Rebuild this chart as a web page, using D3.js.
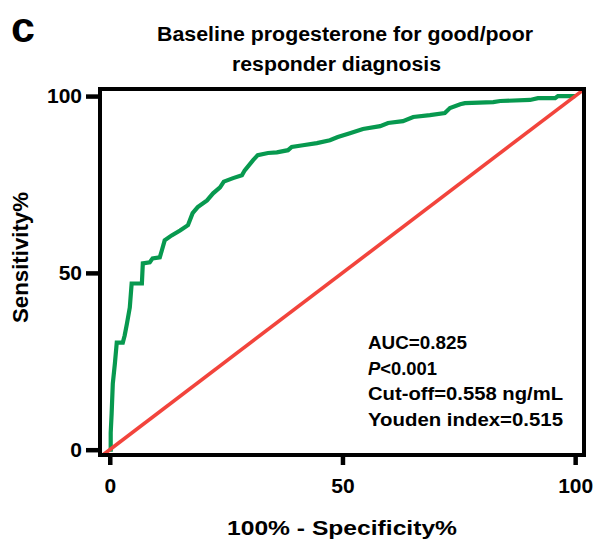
<!DOCTYPE html>
<html>
<head>
<meta charset="utf-8">
<script src="https://cdn.jsdelivr.net/npm/d3@7"></script>
<style>
  html, body { margin: 0; padding: 0; background: #fff; }
  svg { display: block; }
  text { font-family: "Liberation Sans", Arial, sans-serif; font-weight: bold; fill: #000; }
</style>
</head>
<body>
<svg id="chart" width="598" height="542"></svg>
<script>
// ROC curve: 100% - Specificity% (x) and Sensitivity% (y)
const fpr = [0, 0.2, 0.2, 0.4, 0.65, 1.1, 1.5, 2.8, 3.2, 3.7, 4.3, 4.7, 6.9, 7.1, 8.6, 9.2, 10.75, 11.2, 11.8, 13.3,
  15.1, 16.8, 17.8, 18.9, 20.9, 22.2, 23.7, 24.5, 26.5, 28.4, 29.0, 30.8, 31.8, 34.0, 35.9, 38.3, 39.1, 41.5,
  44.5, 47.3, 49.0, 51.6, 54.4, 58.1, 59.8, 63.0, 65.2, 68.8, 72.0, 73.1, 75.3, 76.3, 82.4, 83.9, 90.3, 92.0,
  95.7, 96.3, 100];
const tpr = [0, 0, 4.8, 10.2, 18.7, 24.4, 30.3, 30.3, 32.3, 35.7, 40.2, 47.0, 47.0, 52.7, 53.0, 54.1, 54.4, 56.4, 59.2, 60.6,
  62.0, 63.5, 66.9, 68.6, 70.5, 72.5, 74.2, 75.8, 76.8, 77.6, 79.0, 81.9, 83.3, 83.9, 84.1, 84.7, 85.6, 86.1,
  86.7, 87.5, 88.4, 89.5, 90.7, 91.5, 92.4, 92.9, 94.1, 94.6, 95.2, 96.6, 97.7, 98.0, 98.3, 98.6, 98.9, 99.4,
  99.4, 100, 100];
const refLine = [-1.5, 101.9];
const xTicks = [0, 50, 100];
const yTicks = [0, 50, 100];
const titleLines = ["Baseline progesterone for good/poor", "responder diagnosis"];
const panelLabel = "c";
const xTitle = "100% - Specificity%";
const yTitle = "Sensitivity%";
const stats = [
  {label: "AUC=0.825", italicP: false},
  {label: "<0.001", italicP: true},
  {label: "Cut-off=0.558 ng/mL", italicP: false},
  {label: "Youden index=0.515", italicP: false}
];

const svg = d3.select("#chart");
const frame = {left: 100, right: 584, top: 89, bottom: 455};
const x = d3.scaleLinear().domain([-2.1, 101.9]).range([frame.left, frame.right]);
const y = d3.scaleLinear().domain([-1.5, 102]).range([frame.bottom, frame.top]);

// Panel label & title
svg.append("text").attr("x", 11).attr("y", 42).attr("font-size", 43).text(panelLabel);
const titleLayout = [{cx: 345, w: 376}, {cx: 336.5, w: 209}];
svg.selectAll("text.title").data(titleLines).enter().append("text")
  .attr("class", "title")
  .attr("x", (d, i) => titleLayout[i].cx - titleLayout[i].w / 2)
  .attr("y", (d, i) => 41 + i * 29.5)
  .attr("font-size", 19.5)
  .attr("textLength", (d, i) => titleLayout[i].w).attr("lengthAdjust", "spacingAndGlyphs")
  .text(d => d);

// ROC curve
const pts = fpr.map((v, i) => [v, tpr[i]]);
svg.append("path").datum(pts)
  .attr("fill", "none").attr("stroke", "#07994f").attr("stroke-width", 4.2)
  .attr("stroke-linejoin", "miter")
  .attr("d", d3.line().x(d => x(d[0])).y(d => y(d[1])));

// Reference line
svg.append("line")
  .attr("x1", x(refLine[0])).attr("y1", y(refLine[0]))
  .attr("x2", x(refLine[1])).attr("y2", y(refLine[1]))
  .attr("stroke", "#f2443c").attr("stroke-width", 3.6);

// Frame
svg.append("rect")
  .attr("x", frame.left).attr("y", frame.top)
  .attr("width", frame.right - frame.left).attr("height", frame.bottom - frame.top)
  .attr("fill", "none").attr("stroke", "#000").attr("stroke-width", 4);

// Axes
const xAxis = svg.append("g").attr("transform", `translate(0,${frame.bottom})`)
  .call(d3.axisBottom(x).tickValues(xTicks).tickSize(10).tickPadding(13).tickFormat(d3.format("d")));
const yAxis = svg.append("g").attr("transform", `translate(${frame.left},0)`)
  .call(d3.axisLeft(y).tickValues(yTicks).tickSize(14).tickPadding(4).tickFormat(d3.format("d")));
[xAxis, yAxis].forEach(g => {
  g.select(".domain").remove();
  g.selectAll(".tick line").attr("stroke", "#000").attr("stroke-width", 4.5);
  g.selectAll(".tick text").attr("font-size", 21)
    .attr("font-family", "'Liberation Sans', Arial, sans-serif").attr("font-weight", "bold").attr("fill", "#000");
});

// Axis titles
svg.append("text").attr("x", 227).attr("y", 535).attr("font-size", 21)
  .attr("textLength", 230).attr("lengthAdjust", "spacingAndGlyphs").text(xTitle);
svg.append("text").attr("transform", "translate(28,323) rotate(-90)")
  .attr("font-size", 22).attr("textLength", 131).attr("lengthAdjust", "spacingAndGlyphs").text(yTitle);

// Stats annotation
const statWidths = [99, 69, 195, 195];
const st = svg.append("g");
stats.forEach((s, i) => {
  const t = st.append("text").attr("x", 368).attr("y", 349 + i * 25.6).attr("font-size", 18)
    .attr("textLength", statWidths[i]).attr("lengthAdjust", "spacingAndGlyphs");
  if (s.italicP) {
    t.append("tspan").attr("font-style", "italic").text("P");
  }
  t.append("tspan").text(s.label);
});
</script>
</body>
</html>
